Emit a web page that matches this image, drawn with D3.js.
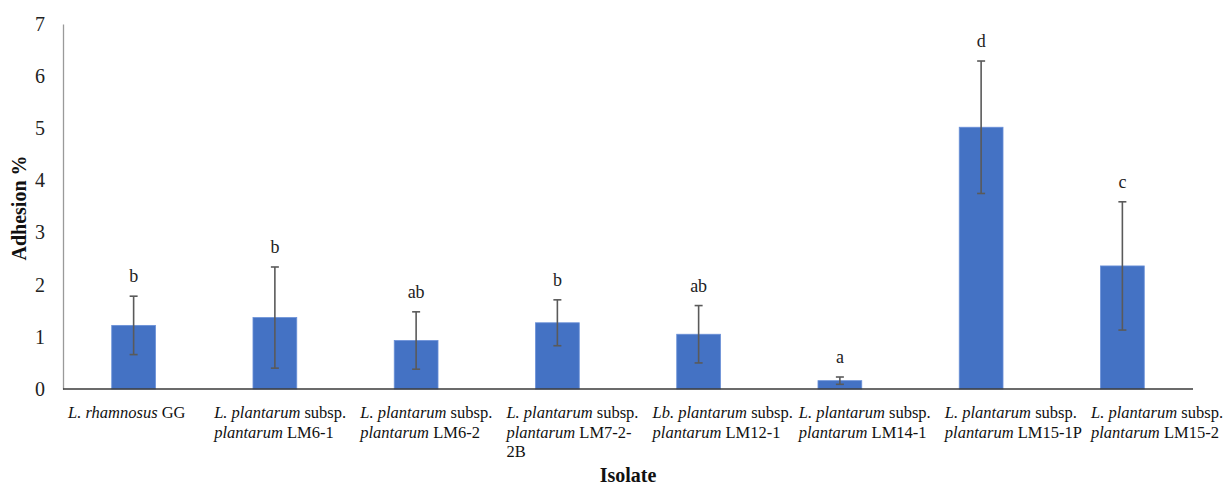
<!DOCTYPE html>
<html>
<head>
<meta charset="utf-8">
<script src="https://cdn.jsdelivr.net/npm/d3@7"></script>
<style>
  body { margin: 0; background: #fff; }
  svg { display: block; font-family: "Liberation Serif", "Times New Roman", serif; }
</style>
</head>
<body>
<svg id="chart" width="1223" height="488"></svg>
<script>
// isolate labels: each line is a list of [text, italic] pieces
const isolates = ["GG", "LM6-1", "LM6-2", "LM7-2-2B", "LM12-1", "LM14-1", "LM15-1P", "LM15-2"];
const labelLines = [
  [[["L. rhamnosus", true], [" GG", false]]],
  [[["L. plantarum", true], [" subsp.", false]], [["plantarum", true], [" LM6-1", false]]],
  [[["L. plantarum", true], [" subsp.", false]], [["plantarum", true], [" LM6-2", false]]],
  [[["L. plantarum", true], [" subsp.", false]], [["plantarum", true], [" LM7-2-", false]], [["2B", false]]],
  [[["Lb. plantarum", true], [" subsp.", false]], [["plantarum", true], [" LM12-1", false]]],
  [[["L. plantarum", true], [" subsp.", false]], [["plantarum", true], [" LM14-1", false]]],
  [[["L. plantarum", true], [" subsp.", false]], [["plantarum", true], [" LM15-1P", false]]],
  [[["L. plantarum", true], [" subsp.", false]], [["plantarum", true], [" LM15-2", false]]]
];
const adhesion = [1.22, 1.37, 0.93, 1.27, 1.05, 0.16, 5.02, 2.36];
const errors   = [0.56, 0.97, 0.55, 0.44, 0.55, 0.07, 1.27, 1.23];
const letters  = ["b", "b", "ab", "b", "ab", "a", "d", "c"];
const yTicks   = [0, 1, 2, 3, 4, 5, 6, 7];

const svg = d3.select("#chart");
const plotLeft = 63, plotRight = 1193, plotTop = 24, plotBottom = 389;

const x = d3.scaleBand()
            .domain(isolates)
            .range([plotLeft, plotRight])
            .paddingInner(0.69)
            .paddingOuter(0.345);

const y = d3.scaleLinear()
            .domain([0, 7])
            .range([plotBottom, plotTop]);

// where the wrapped tick labels start (Excel shifts them a bit)
const labelX = d3.scalePoint()
                 .domain(isolates)
                 .range([68, 1091]);

// y axis
const yAxis = d3.axisLeft(y).tickValues(yTicks).tickFormat(d3.format("d")).tickSize(0).tickPadding(18);
svg.append("g")
   .attr("transform", `translate(${plotLeft},0)`)
   .call(yAxis)
   .attr("font-family", "Liberation Serif")
   .attr("font-size", 20)
   .call(g => g.select(".domain").attr("stroke", "#9a9a9a").attr("stroke-width", 1.3))
   .call(g => g.selectAll("text").attr("fill", "#222"));

// bars
svg.selectAll("rect.bar")
   .data(adhesion)
   .enter()
   .append("rect")
   .attr("class", "bar")
   .attr("x", (d, i) => x(isolates[i]))
   .attr("y", d => y(d))
   .attr("width", x.bandwidth())
   .attr("height", d => plotBottom - y(d))
   .attr("fill", "#4472c4")
   .attr("stroke", "#6a90d8")
   .attr("stroke-width", 0.8);

// error bars
const cap = 4;
const err = svg.append("g").attr("stroke", "#5a5a5a").attr("stroke-width", 1.6);
adhesion.forEach((v, i) => {
  const cx = x(isolates[i]) + x.bandwidth() / 2;
  const hi = y(v + errors[i]), lo = y(Math.max(0, v - errors[i]));
  err.append("line").attr("x1", cx).attr("x2", cx).attr("y1", hi).attr("y2", lo);
  err.append("line").attr("x1", cx - cap).attr("x2", cx + cap).attr("y1", hi).attr("y2", hi);
  err.append("line").attr("x1", cx - cap).attr("x2", cx + cap).attr("y1", lo).attr("y2", lo);
});

// significance letters
svg.selectAll("text.letter")
   .data(letters)
   .enter()
   .append("text")
   .attr("class", "letter")
   .attr("x", (d, i) => x(isolates[i]) + x.bandwidth() / 2)
   .attr("y", (d, i) => y(adhesion[i] + errors[i]) - 14)
   .attr("text-anchor", "middle")
   .attr("font-size", 18)
   .attr("fill", "#222")
   .text(d => d);

// x axis line
svg.append("line")
   .attr("x1", plotLeft).attr("x2", plotRight)
   .attr("y1", plotBottom).attr("y2", plotBottom)
   .attr("stroke", "#3a3a3a")
   .attr("stroke-width", 1.6);

// category labels
const lab = svg.append("g").attr("font-size", 16.5).attr("fill", "#111");
labelLines.forEach((lines, i) => {
  lines.forEach((pieces, j) => {
    const t = lab.append("text")
                 .attr("x", labelX(isolates[i]))
                 .attr("y", 418 + j * 19.5);
    pieces.forEach(p => {
      t.append("tspan")
       .attr("font-style", p[1] ? "italic" : "normal")
       .text(p[0]);
    });
  });
});

// axis titles
svg.append("text")
   .attr("transform", "translate(26,208) rotate(-90)")
   .attr("text-anchor", "middle")
   .attr("font-size", 20)
   .attr("font-weight", "bold")
   .attr("fill", "#111")
   .text("Adhesion %");

svg.append("text")
   .attr("x", (plotLeft + plotRight) / 2)
   .attr("y", 482)
   .attr("text-anchor", "middle")
   .attr("font-size", 20)
   .attr("font-weight", "bold")
   .attr("fill", "#111")
   .text("Isolate");
</script>
</body>
</html>
